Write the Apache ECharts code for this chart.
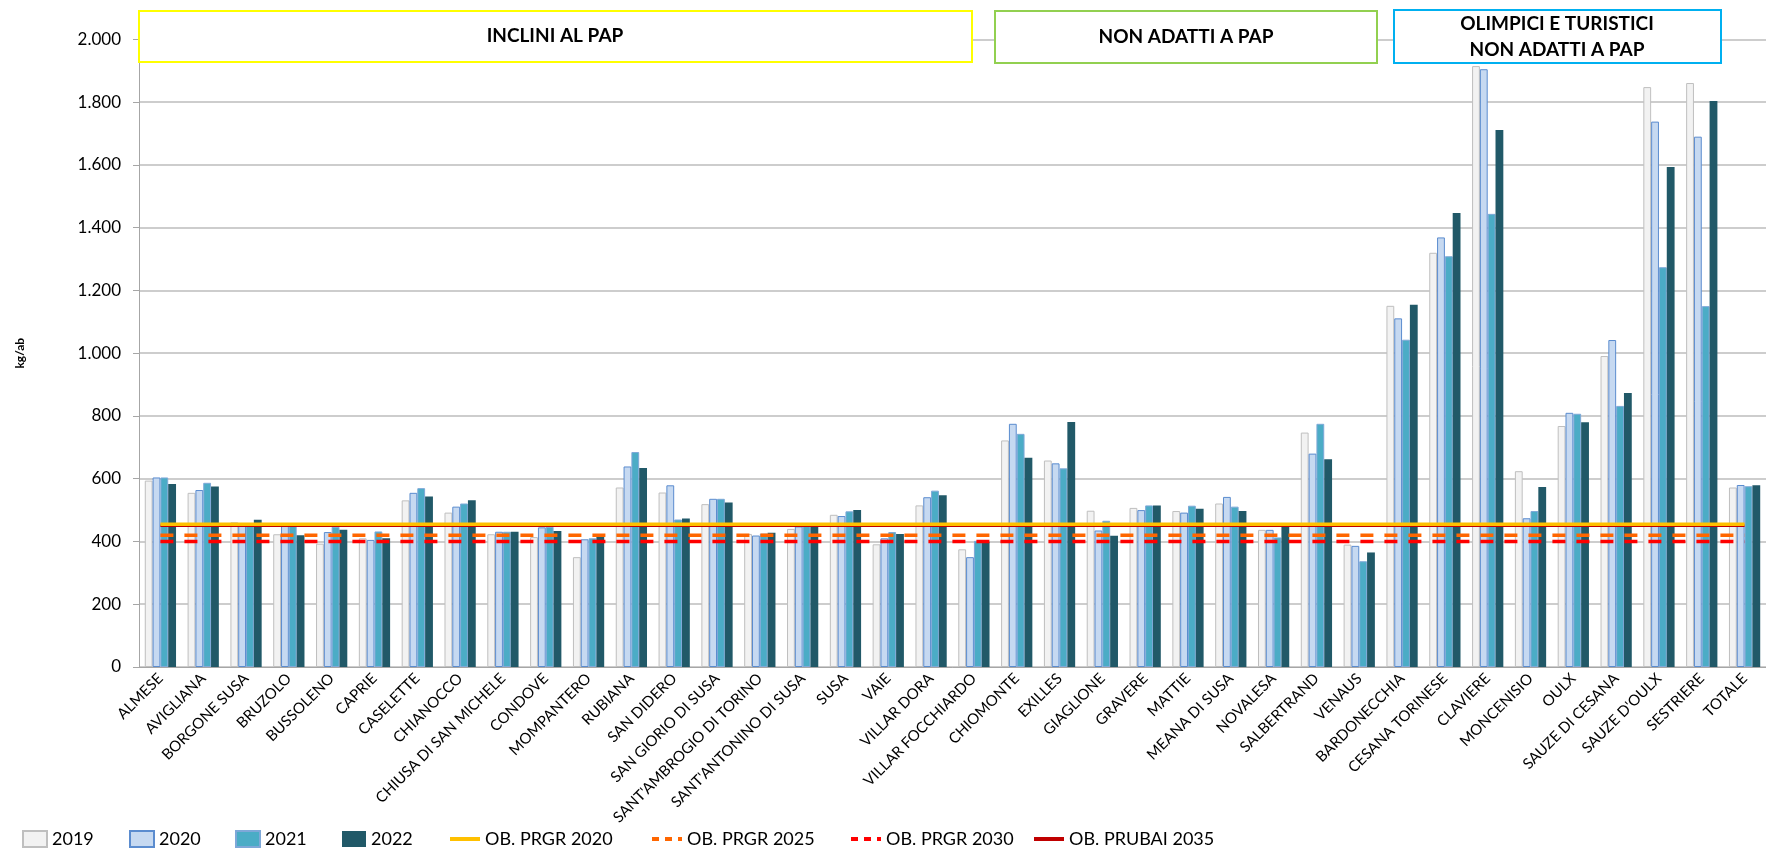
<!DOCTYPE html>
<html>
<head>
<meta charset="utf-8">
<script src="https://cdn.jsdelivr.net/npm/echarts@6/dist/echarts.min.js"></script>
<style>
  html, body { margin: 0; padding: 0; background: #fff; }
  #main { width: 1766px; height: 854px; }
</style>
</head>
<body>
<div id="main"></div>
<script>
// comuni
var categories = ['ALMESE', 'AVIGLIANA', 'BORGONE SUSA', 'BRUZOLO', 'BUSSOLENO', 'CAPRIE', 'CASELETTE', 'CHIANOCCO',
  'CHIUSA DI SAN MICHELE', 'CONDOVE', 'MOMPANTERO', 'RUBIANA', 'SAN DIDERO', 'SAN GIORIO DI SUSA',
  "SANT'AMBROGIO DI TORINO", "SANT'ANTONINO DI SUSA", 'SUSA', 'VAIE', 'VILLAR DORA', 'VILLAR FOCCHIARDO',
  'CHIOMONTE', 'EXILLES', 'GIAGLIONE', 'GRAVERE', 'MATTIE', 'MEANA DI SUSA', 'NOVALESA', 'SALBERTRAND', 'VENAUS',
  'BARDONECCHIA', 'CESANA TORINESE', 'CLAVIERE', 'MONCENISIO', 'OULX', 'SAUZE DI CESANA', "SAUZE D'OULX",
  'SESTRIERE', 'TOTALE']

// kg/ab per anno
var v2019 = [594, 555, 461, 423, 393, 410, 531, 492, 423, 414, 350, 572, 556, 519, 424, 440, 485, 391, 515, 375,
  722, 658, 498, 507, 497, 521, 437, 747, 390, 1151, 1320, 1915, 624, 768, 991, 1848, 1861, 572]
var v2020 = [604, 564, 450, 450, 430, 405, 555, 511, 431, 445, 407, 639, 579, 536, 419, 448, 481, 410, 541, 350,
  775, 649, 435, 500, 492, 542, 437, 680, 386, 1111, 1369, 1905, 474, 810, 1042, 1738, 1690, 580]
var v2021 = [604, 587, 452, 452, 447, 432, 570, 521, 431, 447, 410, 685, 470, 536, 425, 452, 496, 430, 562, 402,
  743, 633, 466, 515, 514, 511, 413, 775, 337, 1043, 1309, 1444, 497, 807, 832, 1274, 1150, 576]
var v2022 = [583, 575, 469, 420, 437, 410, 543, 531, 431, 433, 418, 634, 473, 524, 428, 452, 500, 424, 547, 399,
  667, 781, 418, 515, 504, 497, 452, 662, 365, 1154, 1447, 1711, 574, 780, 873, 1593, 1804, 579]

// obiettivi
var obPrgr2020 = 455
var obPrgr2025 = 420
var obPrgr2030 = 400
var obPrubai2035 = 450

var fontName = 'Lato'

function targetLine (v) {
  // da centro prima categoria a centro ultima
  return [[categories[0], v], [categories[categories.length - 1], v]]
}

function barSeries (name, data, fill, border) {
  return {
    name: name,
    type: 'bar',
    data: data,
    barGap: '0%',
    barCategoryGap: '27%',
    itemStyle: { color: fill, borderColor: border, borderWidth: border ? 1 : 0 }
  }
}

function lineSeries (name, v, color, width, type, z) {
  return {
    name: name,
    type: 'line',
    data: targetLine(v),
    symbol: 'none',
    silent: true,
    z: z,
    lineStyle: { color: color, width: width, type: type },
    itemStyle: { color: color }
  }
}

// una legenda per voce, per piazzarle come nell'originale
var legendItems = [
  { name: '2019', left: 17, bar: true },
  { name: '2020', left: 124, bar: true },
  { name: '2021', left: 230, bar: true },
  { name: '2022', left: 337, bar: true },
  { name: 'OB. PRGR 2020', left: 443 },
  { name: 'OB. PRGR 2025', left: 645, dash: [7, 6] },
  { name: 'OB. PRGR 2030', left: 844, dash: [7, 6] },
  { name: 'OB. PRUBAI 2035', left: 1027 }
]
var legends = legendItems.map(function (it) {
  var item = it.bar
    ? { name: it.name, icon: 'rect' }
    : { name: it.name, itemStyle: { opacity: 0 }, lineStyle: { width: 4, type: it.dash || 'solid' } }
  return {
    left: it.left,
    bottom: 1,
    itemWidth: it.bar ? 24 : 30,
    itemHeight: 16,
    textStyle: { fontFamily: fontName, fontSize: 18, color: '#000' },
    data: [item]
  }
})

var chart = echarts.init(document.getElementById('main'))
var option = {
  animation: false,
  textStyle: { fontFamily: fontName },
  grid: { left: 139, right: -6, top: 39.4, bottom: 187, containLabel: false },
  legend: legends,
  xAxis: {
    type: 'category',
    data: categories,
    axisLine: { lineStyle: { color: '#a6a6a6', width: 1 } },
    axisTick: { length: 5, lineStyle: { color: '#a6a6a6' } },
    axisLabel: {
      interval: 0,
      rotate: 45,
      margin: 9,
      color: '#000',
      fontFamily: fontName,
      fontSize: 15
    }
  },
  yAxis: {
    type: 'value',
    min: 0,
    max: 2000,
    interval: 200,
    name: 'kg/ab',
    nameLocation: 'middle',
    nameRotate: 90,
    nameGap: 113,
    nameTextStyle: { fontFamily: fontName, fontSize: 12, fontWeight: 'bold', color: '#000' },
    axisLine: { show: true, lineStyle: { color: '#a6a6a6', width: 1 } },
    axisTick: { show: true, length: 6, lineStyle: { color: '#a6a6a6' } },
    splitLine: { lineStyle: { color: '#bdbdbd', width: 1.5 } },
    axisLabel: {
      margin: 18,
      color: '#000',
      fontFamily: fontName,
      fontSize: 17,
      formatter: function (v) {
        return String(v).replace(/\B(?=(\d{3})+(?!\d))/g, '.')
      }
    }
  },
  series: [
    barSeries('2019', v2019, '#f2f2f2', '#bfbfbf'),
    barSeries('2020', v2020, '#c6d9f1', '#5b8ccf'),
    barSeries('2021', v2021, '#4bacc6', '#7ea8d8'),
    barSeries('2022', v2022, '#215968', null),
    lineSeries('OB. PRUBAI 2035', obPrubai2035, '#c00000', 2.5, 'solid', 3),
    lineSeries('OB. PRGR 2030', obPrgr2030, '#ff0000', 3.5, [13, 11], 3),
    lineSeries('OB. PRGR 2025', obPrgr2025, '#ff6600', 3.5, [13, 11], 3),
    lineSeries('OB. PRGR 2020', obPrgr2020, '#ffc000', 3.5, 'solid', 4)
  ],
  graphic: [
    {
      type: 'rect', z: 10,
      shape: { x: 139, y: 11, width: 833, height: 51 },
      style: { fill: '#fff', stroke: '#ffff00', lineWidth: 2 }
    },
    {
      type: 'text', z: 11, x: 555, y: 36,
      style: { text: 'INCLINI AL PAP', fill: '#000', font: 'bold 19px ' + fontName, align: 'center', verticalAlign: 'middle' }
    },
    {
      type: 'rect', z: 10,
      shape: { x: 995, y: 11, width: 382, height: 52 },
      style: { fill: '#fff', stroke: '#92d050', lineWidth: 2 }
    },
    {
      type: 'text', z: 11, x: 1186, y: 37,
      style: { text: 'NON ADATTI A PAP', fill: '#000', font: 'bold 19px ' + fontName, align: 'center', verticalAlign: 'middle' }
    },
    {
      type: 'rect', z: 10,
      shape: { x: 1394, y: 10, width: 327, height: 53 },
      style: { fill: '#fff', stroke: '#00b0f0', lineWidth: 2 }
    },
    {
      type: 'text', z: 11, x: 1557, y: 37,
      style: {
        text: 'OLIMPICI E TURISTICI\nNON ADATTI A PAP',
        fill: '#000', font: 'bold 19px ' + fontName, lineHeight: 26,
        align: 'center', verticalAlign: 'middle'
      }
    }
  ]
}
chart.setOption(option)
</script>
</body>
</html>
